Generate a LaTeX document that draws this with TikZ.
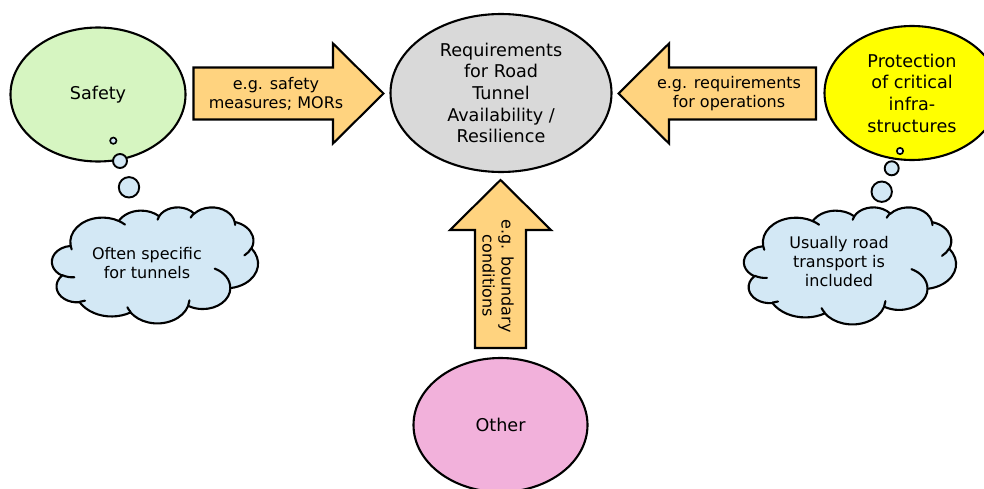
\documentclass[tikz,border=0pt]{standalone}
\usepackage{fontspec}
\setmainfont{DejaVu Sans}
\usetikzlibrary{shapes.geometric}

\definecolor{safetygreen}{RGB}{214,245,193}
\definecolor{hubgray}{RGB}{217,217,217}
\definecolor{cipyellow}{RGB}{255,255,0}
\definecolor{otherpink}{RGB}{242,177,219}
\definecolor{arrowgold}{RGB}{255,211,127}
\definecolor{cloudblue}{RGB}{211,232,245}

\newcommand\ovalfont{\fontsize{17.6}{21.7}\selectfont}
\newcommand\notefont{\fontsize{16}{19}\selectfont}

\tikzset{
  oval/.style={ellipse, draw=black, line width=2.1pt, inner sep=0pt,
    align=center, font=\ovalfont, text=black},
  note/.style={align=center, font=\notefont, inner sep=0pt, text=black},
  blockarrow/.style={draw=black, fill=arrowgold, line width=2.1pt, line join=miter},
  bubble/.style={draw=black, fill=cloudblue, line width=1.9pt},
  cloudbody/.style={draw=black, fill=cloudblue, line width=2.1pt, line join=round},
  cloudline/.style={draw=black, line width=2.1pt, line cap=round},
  % one elliptic arc given by radii, start angle and sweep (angles measured as seen)
  puff/.style n args={4}{insert path={
    arc[x radius=#1, y radius=#2,
        start angle={atan2(#1*sin(#3),#2*cos(#3))},
        delta angle={mod(atan2(#1*sin(#3+#4),#2*cos(#3+#4))-atan2(#1*sin(#3),#2*cos(#3))+720,360)}]}},
  % cloud outline in a 43.2 x 43.2 frame, y downwards
  cloudborder/.style={insert path={
    (3.9,14.37)
    [puff={6.753}{9.19}{-190.4875}{123.7805}]
    [puff={5.333}{7.267}{-144.1024}{89.9452}]
    [puff={4.365}{5.945}{-145.8079}{99.723}]
    [puff={4.857}{6.595}{-130.9861}{117.2417}]
    [puff={5.333}{7.273}{-78.7089}{109.0269}]
    [puff={6.775}{9.22}{-46.2673}{130.269}]
    [puff={5.785}{7.867}{0.625}{114.0333}]
    [puff={6.752}{9.215}{22.4516}{115.1726}]
    [puff={7.72}{10.543}{66.2426}{75.711}]
    [puff={4.36}{5.918}{-274.9421}{146.7356}]
    [puff={4.345}{5.945}{-246.8285}{152.5189}]
    -- cycle}},
  % short creases between the puffs
  cloudcreases/.style={insert path={
    (4.693,26.177) [puff={4.345}{5.945}{86.742}{26.4295}]
    (6.928,34.899) [puff={4.36}{5.918}{73.6105}{11.4475}]
    (16.478,39.09) [puff={6.752}{9.215}{137.6242}{14.0811}]
    (28.827,34.751) [puff={6.752}{9.215}{6.4533}{15.9984}]
    (34.129,22.954) [puff={5.785}{7.867}{-70.2924}{70.9174}]
    (41.798,15.354) [puff={5.333}{7.273}{30.318}{27.7515}]
    (38.324,5.426) [puff={4.857}{6.595}{-13.7443}{14.8589}]
    (29.078,3.952) [puff={4.857}{6.595}{-149.1815}{18.1954}]
    (22.141,4.72) [puff={4.365}{5.945}{-163.4943}{17.6864}]
    (14,5.192) [puff={6.753}{9.19}{-66.707}{12.3194}]
    (4.127,15.789) [puff={6.753}{9.19}{157.6544}{11.8582}]
  }}
}

\begin{document}
\begin{tikzpicture}[x=1pt, y=-1pt]
\clip (0,0) rectangle (984,489);

% the four topics
\node[oval, fill=safetygreen, minimum width=175pt, minimum height=134pt] (safety) at (98,94.5) {Safety};
\node[oval, fill=hubgray, minimum width=221pt, minimum height=158pt] (hub) at (501,93) {Requirements\\for Road\\Tunnel\\Availability /\\Resilience};
\node[oval, fill=cipyellow, minimum width=175pt, minimum height=134pt] (cip) at (912,93) {Protection\\of critical\\infra-\\structures};
\node[oval, fill=otherpink, minimum width=174pt, minimum height=134pt] (other) at (500.5,425) {Other};

% block arrows towards the central requirements
\draw[blockarrow] (193.5,67.5) -- (333,67.5) -- (333,43.5) -- (383.5,93.5)
  -- (333,143.5) -- (333,119.5) -- (193.5,119.5) -- cycle;
\draw[blockarrow] (618.5,93.5) -- (669,43.5) -- (669,67.5) -- (816,67.5)
  -- (816,119.5) -- (669,119.5) -- (669,143.5) -- cycle;
\draw[blockarrow] (500.5,180) -- (551,230) -- (526,230) -- (526,348)
  -- (475,348) -- (475,230) -- (450,230) -- cycle;

\node[note] (safetyvia) at (276,94) {e.g. safety\\measures; MORs};
\node[note] (cipvia) at (729,94) {e.g. requirements\\for operations};
\node[note, rotate=-90] (othervia) at (498,276) {e.g. boundary\\conditions};

% thought bubbles
\draw[bubble, line width=1.6pt] (113.3,140.7) circle[radius=3.2];
\draw[bubble] (120,161) circle[radius=7];
\draw[bubble] (129,187.3) circle[radius=10.2];
\draw[bubble, line width=1.6pt] (900,151) circle[radius=3.2];
\draw[bubble] (891.7,168.3) circle[radius=7];
\draw[bubble] (881.7,191.7) circle[radius=10.2];

% clouds
\begin{scope}[shift={(52,207)}, x=4.7685pt, y=-2.6852pt]
  \path[cloudbody] [cloudborder];
  \path[cloudline] [cloudcreases];
\end{scope}
\begin{scope}[shift={(744,207)}, x=4.9074pt, y=-2.7083pt]
  \path[cloudbody] [cloudborder];
  \path[cloudline] [cloudcreases];
\end{scope}

\node[note] (tunnelnote) at (147,263) {Often specific\\for tunnels};
\node[note] (roadnote) at (839,262) {Usually road\\transport is\\included};
\end{tikzpicture}
\end{document}
